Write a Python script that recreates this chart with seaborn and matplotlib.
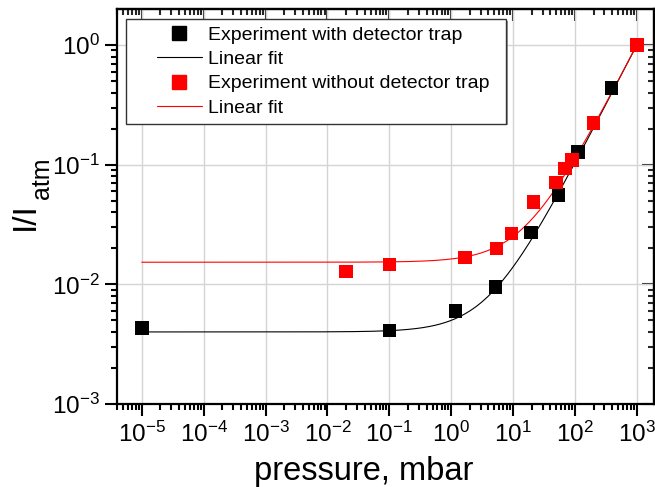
import numpy as np
import pandas as pd
import matplotlib
matplotlib.use("Agg")
import matplotlib.pyplot as plt
import matplotlib.ticker as mticker
from matplotlib.lines import Line2D
from matplotlib.patches import Rectangle
import seaborn as sns

# ---- data ----
p_trap = [1e-5, 0.1, 1.18, 5.2, 19.5, 54, 113, 390, 1000]
i_trap = [0.0043, 0.0041, 0.0060, 0.0095, 0.027, 0.056, 0.128, 0.435, 1.0]

p_notrap = [0.02, 0.1, 1.67, 5.4, 9.5, 21.4, 49, 69, 89, 200, 1000]
i_notrap = [0.0128, 0.0147, 0.0168, 0.020, 0.0267, 0.0485, 0.0707, 0.093, 0.109, 0.222, 1.0]

# linear fit parameters (I = a + b*p)
fit_trap_a, fit_trap_b = 0.0040, 0.000996
fit_notrap_a, fit_notrap_b = 0.0153, 0.00098
fit_range = (1e-5, 1e3)

legend_labels = ["Experiment with detector trap", "Linear fit",
                 "Experiment without detector trap", "Linear fit"]
x_ticks = [1e-5, 1e-4, 1e-3, 1e-2, 1e-1, 1e0, 1e1, 1e2, 1e3]
y_ticks = [1e-3, 1e-2, 1e-1, 1e0]

# ---- style ----
sns.set_theme(style="white")
plt.rcParams["font.family"] = ["Liberation Sans", "DejaVu Sans"]
plt.rcParams["mathtext.fontset"] = "custom"
plt.rcParams["mathtext.rm"] = "Liberation Sans"
plt.rcParams["mathtext.it"] = "Liberation Sans:italic"
plt.rcParams["mathtext.bf"] = "Liberation Sans:bold"

W, H = 655, 487
fig = plt.figure(figsize=(W / 100, H / 100), dpi=100)
ax_l, ax_r, ax_t, ax_b = 117, 653.5, 9.3, 404
ax = fig.add_axes([ax_l / W, 1 - ax_b / H, (ax_r - ax_l) / W, (ax_b - ax_t) / H])

pgrid = np.logspace(np.log10(fit_range[0]), np.log10(fit_range[1]), 300)
fit_df = pd.DataFrame({
    "p": np.concatenate([pgrid, pgrid]),
    "I": np.concatenate([fit_trap_a + fit_trap_b * pgrid, fit_notrap_a + fit_notrap_b * pgrid]),
    "series": ["trap"] * len(pgrid) + ["notrap"] * len(pgrid),
})
pts_df = pd.DataFrame({
    "p": p_trap + p_notrap,
    "I": i_trap + i_notrap,
    "series": ["trap"] * len(p_trap) + ["notrap"] * len(p_notrap),
})
pal = {"trap": "black", "notrap": "#ff0000"}

ax.set_xscale("log")
ax.set_yscale("log")
sns.lineplot(data=fit_df, x="p", y="I", hue="series", palette=pal, ax=ax,
             linewidth=0.8, legend=False, sort=False, estimator=None, zorder=3)
sns.scatterplot(data=pts_df, x="p", y="I", hue="series", palette=pal, ax=ax,
                marker="s", s=95, edgecolor="none", legend=False, zorder=4)

ax.set_xlim(10 ** -5.40, 10 ** 3.27)
ax.set_ylim(1e-3, 10 ** 0.298)

ax.grid(True, which="major", color="#d4d4d4", linewidth=1.0)
ax.set_axisbelow(True)

for s in ax.spines.values():
    s.set_visible(True)
    s.set_color("black")
    s.set_linewidth(1.6)

ax.xaxis.set_major_locator(mticker.FixedLocator(x_ticks))
ax.yaxis.set_major_locator(mticker.FixedLocator(y_ticks))
ax.xaxis.set_minor_locator(mticker.LogLocator(base=10, subs=np.arange(2, 10), numticks=30))
ax.yaxis.set_minor_locator(mticker.LogLocator(base=10, subs=np.arange(2, 10), numticks=30))
ax.xaxis.set_major_formatter(mticker.LogFormatterSciNotation())
ax.yaxis.set_major_formatter(mticker.LogFormatterSciNotation())
ax.xaxis.set_minor_formatter(mticker.NullFormatter())
ax.yaxis.set_minor_formatter(mticker.NullFormatter())

ax.tick_params(which="both", bottom=True, left=True, top=False, right=False,
               direction="out", color="black", width=1.5)
ax.tick_params(which="major", length=8.5, labelsize=17.5, pad=4, labelcolor="black")
ax.tick_params(which="minor", length=4.5)

# inward ticks on top and right
secx = ax.secondary_xaxis("top")
secx.set_xscale("log")
secx.xaxis.set_major_locator(mticker.FixedLocator(x_ticks))
secx.xaxis.set_minor_locator(mticker.LogLocator(base=10, subs=np.arange(2, 10), numticks=30))
secx.tick_params(which="both", direction="in", width=1.5, labeltop=False)
secx.tick_params(which="major", length=8.5)
secx.tick_params(which="minor", length=4.5)
secx.spines["top"].set_linewidth(1.6)
secy = ax.secondary_yaxis("right")
secy.set_yscale("log")
secy.yaxis.set_major_locator(mticker.FixedLocator(y_ticks))
secy.yaxis.set_minor_locator(mticker.LogLocator(base=10, subs=np.arange(2, 10), numticks=30))
secy.tick_params(which="both", direction="in", width=1.5, labelright=False)
secy.tick_params(which="major", length=8.5)
secy.tick_params(which="minor", length=4.5)
secy.spines["right"].set_linewidth(1.6)

ax.set_xlabel("pressure, mbar", fontsize=23.5, color="black")
ax.xaxis.set_label_coords((363.5 - ax_l) / (ax_r - ax_l), -0.133)
ax.set_ylabel("")
# y label: "I/I" with a large subscript "atm"
fig.text(25 / W, 1 - 216 / H, "I/I", rotation=90, fontsize=24, color="black",
         ha="center", va="center")
fig.text(42 / W, 1 - 178 / H, "atm", rotation=90, fontsize=18, color="black",
         ha="center", va="center")

# legend frame (Origin style)
aw, ah = ax_r - ax_l, ax_b - ax_t
fx0, fx1, fy0, fy1 = 126, 506, 19, 123.5
ax.add_patch(Rectangle(((fx0 + 1.5 - ax_l) / aw, (ax_b - fy1 - 1.5) / ah),
                       (fx1 - fx0) / aw, (fy1 - fy0) / ah, transform=ax.transAxes,
                       facecolor="#9a9a9a", edgecolor="none", zorder=5))
ax.add_patch(Rectangle(((fx0 - ax_l) / aw, (ax_b - fy1) / ah),
                       (fx1 - fx0) / aw, (fy1 - fy0) / ah, transform=ax.transAxes,
                       facecolor="white", edgecolor="#333333", linewidth=1.0, zorder=5.5))

handles = [
    Line2D([], [], color="black", marker="s", linestyle="none", markersize=10),
    Line2D([], [], color="black", linewidth=0.8),
    Line2D([], [], color="#ff0000", marker="s", linestyle="none", markersize=10),
    Line2D([], [], color="#ff0000", linewidth=0.8),
]
leg = ax.legend(handles, legend_labels, loc="upper left",
                bbox_to_anchor=(156.7 / W, 1 - 26 / H), bbox_transform=fig.transFigure,
                fontsize=14, frameon=False, borderpad=0, labelspacing=0.35,
                handlelength=2.32, handletextpad=0.34, borderaxespad=0)
leg.set_zorder(6)
for t in leg.get_texts():
    t.set_color("black")

fig.savefig("out.png", dpi=100)
